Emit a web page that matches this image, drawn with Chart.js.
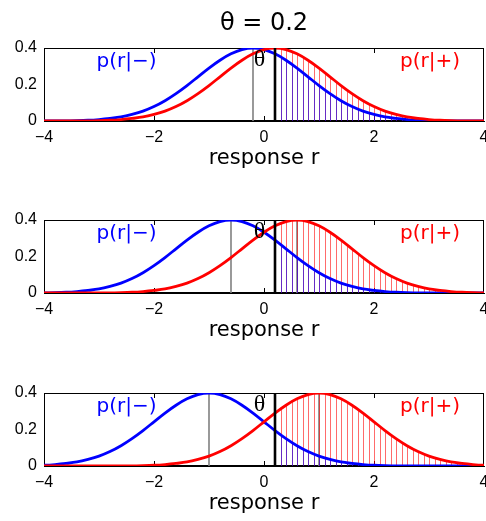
<!DOCTYPE html>
<html><head><meta charset="utf-8">
<script src="https://cdn.jsdelivr.net/npm/chart.js@4.4.1/dist/chart.umd.min.js"></script>
<style>
html,body{margin:0;padding:0;background:#fff;}
#wrap{position:relative;width:486px;height:521px;overflow:hidden;background:#fff;}
canvas{position:absolute;left:0;}
</style></head><body>
<div id="wrap">
<canvas id="c0" width="486" height="171" style="top:0px"></canvas>
<canvas id="c1" width="486" height="172" style="top:171px"></canvas>
<canvas id="c2" width="486" height="173" style="top:343px"></canvas>
</div>
<script>
// ---- data ----
const titleText = 'θ = 0.2';
const thetaValue = 0.2;
const panelMeans = [0.2, 0.6, 1.0];          // p(r|+) mean; p(r|−) mean is the negative
const pdfOffsets = [-5.0,-4.8,-4.6,-4.4,-4.2,-4.0,-3.8,-3.6,-3.4,-3.2,-3.0,-2.8,-2.6,-2.4,-2.2,-2.0,-1.8,-1.6,-1.4,-1.2,-1.0,-0.8,-0.6,-0.4,-0.2,
                    0.0,0.2,0.4,0.6,0.8,1.0,1.2,1.4,1.6,1.8,2.0,2.2,2.4,2.6,2.8,3.0,3.2,3.4,3.6,3.8,4.0,4.2,4.4,4.6,4.8,5.0];
const pdfValues  = [0,0,0,0,0,0,0,0.001,0.001,0.002,0.004,0.008,0.014,0.022,0.036,0.054,0.079,0.111,0.150,0.194,0.242,0.290,0.333,0.368,0.391,
                    0.399,0.391,0.368,0.333,0.290,0.242,0.194,0.150,0.111,0.079,0.054,0.036,0.022,0.014,0.008,0.004,0.002,0.001,0.001,0,0,0,0,0,0,0];
const xTickValues = [-4,-2,0,2,4];
const xTickLabels = ['\u22124','\u22122','0','2','4'];
const yTickValues = [0,0.2,0.4];
const yTickLabels = ['0','0.2','0.4'];
const xMin = -4, xMax = 4, yMax = 0.4;
const xAxisTitle = 'response r';
const labelNeg = 'p(r|\u2212)';
const labelPos = 'p(r|+)';
const labelTheta = 'θ';

// ---- helpers ----
function curvePoints(mean){ return pdfOffsets.map((o,i)=>({x:+(mean+o).toFixed(3), y:pdfValues[i]})); }

function hatchPattern(chart, color){
  const xs = chart.scales && chart.scales.x;
  if(!xs || !chart.chartArea) return color;
  const p0 = xs.getPixelForValue(0);
  const W = Math.round(xs.getPixelForValue(2) - p0);
  const step = W/20;
  const c = document.createElement('canvas'); c.width = W; c.height = 4;
  const g = c.getContext('2d'); g.fillStyle = color;
  for(let i=0;i<20;i++) g.fillRect(Math.round(i*step),0,1,4);
  const pat = chart.ctx.createPattern(c,'repeat');
  pat.setTransform(new DOMMatrix().translateSelf(Math.round(p0-0.5),0));
  return pat;
}

let frameInfo = '';
function drawFrame(chart){
  const ctx = chart.ctx;
  const x = chart.scales.x, y = chart.scales.y;
  const L=Math.round(x.getPixelForValue(xMin)), R=Math.round(x.getPixelForValue(xMax))-1;
  const T=Math.round(y.getPixelForValue(yMax)), B=Math.round(y.getPixelForValue(0))-1;
  const m = ctx.getTransform();
  frameInfo = [L,T,R,B,m.a,m.d,m.e,m.f,ctx.globalCompositeOperation,ctx.globalAlpha].join(' ');
  ctx.save();
  ctx.fillStyle = '#000000';
  ctx.fillRect(L, T, R-L+1, 1);
  ctx.fillRect(L, B, R-L+1, 1);
  ctx.fillRect(L, T, 1, B-T+1);
  ctx.fillRect(R, T, 1, B-T+1);
  xTickValues.forEach(v=>{ const px=Math.round(x.getPixelForValue(v)); if(px>L+1&&px<R-1){ ctx.fillRect(px,B-4,1,4); ctx.fillRect(px,T+1,1,4);} });
  ctx.restore();
}

const framePlugin = {
  id:'axesFrame',
  beforeDatasetsDraw(chart){ drawFrame(chart); }
};

const panelPlugin = {
  id:'panelText',
  afterDatasetsDraw(chart, args, opts){
    const ctx = chart.ctx;
    const x = chart.scales.x, y = chart.scales.y;
    ctx.save(); ctx.textAlign='center'; ctx.textBaseline='middle';
    (opts.items||[]).forEach(it=>{
      ctx.font = it.font; ctx.fillStyle = it.color;
      ctx.fillText(it.text, x.getPixelForValue(it.x), y.getPixelForValue(it.y));
    });
    ctx.restore();
  }
};

function makeChart(id, mean, idx){
  const red = curvePoints(mean), blue = curvePoints(-mean);
  const lineDs = (data, color, width, order) => ({data, borderColor:color, borderWidth:width, pointRadius:0, fill:false, order, cubicInterpolationMode:'monotone'});
  const hatchDs = (data, color, order) => ({data, borderWidth:0, borderColor:'rgba(0,0,0,0)', pointRadius:0, fill:'origin', order,
      cubicInterpolationMode:'monotone', backgroundColor:(ctx)=>hatchPattern(ctx.chart, color)});
  const datasets = [
    {data:[{x:thetaValue,y:0},{x:thetaValue,y:yMax}], borderColor:'#000', borderWidth:2.6, pointRadius:0, fill:false, order:0},
    lineDs(red,'#ff0000',2.8,1),
    lineDs(blue,'#0000ff',2.8,2),
    hatchDs(blue.filter(p=>p.x>=thetaValue-1e-9),'rgba(0,0,255,0.6)',3),
    hatchDs(red.filter(p=>p.x>=thetaValue-1e-9),'rgba(255,0,0,0.58)',4),
    {data:[{x:-mean,y:0},{x:-mean,y:yMax}], borderColor:'#808080', borderWidth:1.6, pointRadius:0, fill:false, order:5},
    {data:[{x:mean,y:0},{x:mean,y:yMax}], borderColor:'#808080', borderWidth:1.6, pointRadius:0, fill:false, order:6}
  ];
  const tops = [0, 49, 50];
  return new Chart(document.getElementById(id), {
    type:'line',
    data:{datasets},
    plugins:[framePlugin, panelPlugin],
    options:{
      responsive:false, animation:false, events:[],
      layout:{padding:{left:0,right:2,top:tops[idx],bottom:0}},
      plugins:{
        legend:{display:false}, tooltip:{enabled:false},
        title:{display: idx===0, fullSize:false, text:titleText, color:'#000', font:{family:'DejaVu Sans', size:24, weight:'normal'}, padding:{top:9,bottom:10.2}},
        panelText:{items:[
          {text:labelNeg, x:-2.5, y:0.327, color:'#0000ff', font:'20px "DejaVu Sans"'},
          {text:labelPos, x:3.02, y:0.327, color:'#ff0000', font:'20px "DejaVu Sans"'},
          {text:labelTheta, x:-0.08, y:0.335, color:'#000', font:'24px "Liberation Serif"'}
        ]}
      },
      scales:{
        x:{type:'linear', min:xMin, max:xMax,
          grid:{display:false, drawTicks:false}, border:{display:true, color:'#000', width:1},
          afterBuildTicks:s=>{ s.ticks = xTickValues.map(v=>({value:v})); },
          afterFit:s=>{ s.height=50; s.paddingLeft=0; s.paddingRight=0; },
          ticks:{autoSkip:false, maxRotation:0, padding:7, color:'#000', font:{family:'Liberation Sans', size:16},
            callback:(v)=>xTickLabels[xTickValues.indexOf(v)]},
          title:{display:true, text:xAxisTitle, color:'#000', font:{family:'DejaVu Sans', size:21}, padding:{top:0,bottom:0}}
        },
        y:{type:'linear', min:0, max:yMax,
          grid:{display:false, drawTicks:false}, border:{display:true, color:'#000', width:1},
          afterBuildTicks:s=>{ s.ticks = yTickValues.map(v=>({value:v})); },
          afterFit:s=>{ s.width=44; s.paddingTop=0; s.paddingBottom=0; },
          ticks:{padding:7, color:'#000', font:{family:'Liberation Sans', size:16},
            callback:(v)=>yTickLabels[yTickValues.indexOf(v)]}
        }
      }
    }
  });
}
panelMeans.forEach((m,i)=>makeChart('c'+i, m, i));
</script>
</body></html>
